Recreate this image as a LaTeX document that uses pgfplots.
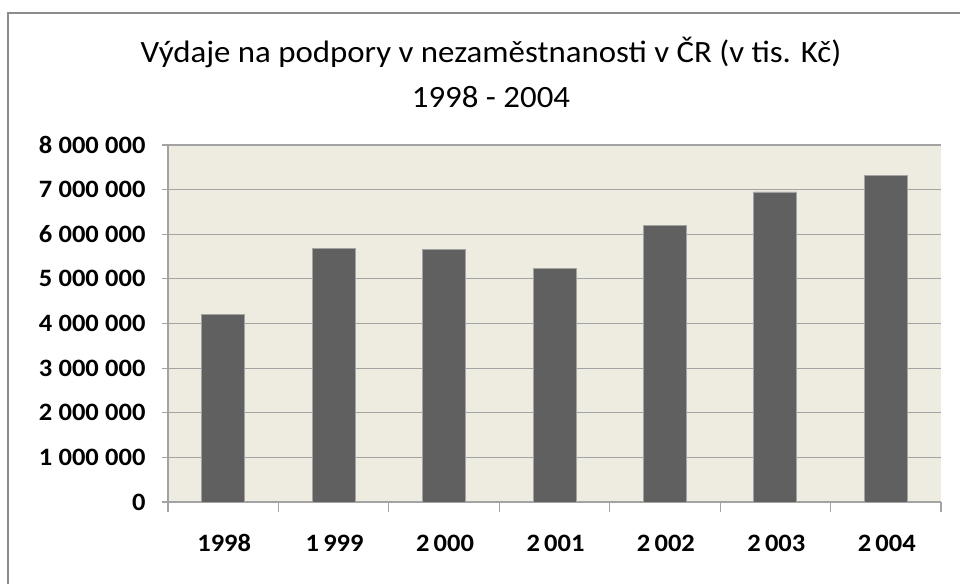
\documentclass[border=0pt]{standalone}
\usepackage{fontspec}
\setmainfont{Carlito}[FakeStretch=1.06]
\usepackage{pgfplots}
\pgfplotsset{compat=1.18}
\definecolor{plotbg}{HTML}{EEECE1}
\definecolor{barfill}{HTML}{606060}
\definecolor{gridc}{HTML}{A3A3A3}
\definecolor{framec}{HTML}{8C8C8C}
\begin{document}
\begin{tikzpicture}[x=1pt,y=1pt]
\useasboundingbox (0,0) rectangle (960,583);
\draw[framec, line width=2pt] (8,-5) -- (8,570) -- (965,570);
\node[anchor=base, font=\fontsize{31}{36}\selectfont] at (491,520) {Výdaje na podpory v nezaměstnanosti v ČR (v tis. Kč)};
\node[anchor=base, font=\fontsize{31}{36}\selectfont] at (491,475) {1998 - 2004};
\begin{axis}[
  at={(168pt,81pt)}, anchor=south west,
  width=773pt, height=357pt, scale only axis,
  axis background/.style={fill=plotbg},
  axis x line*=bottom, axis y line*=left,
  axis line style={gridc, line width=1.2pt},
  xmin=-0.5, xmax=6.5, ymin=0, ymax=8000000,
  xtick={0,...,6},
  xticklabels={1998,1\,999,2\,000,2\,001,2\,002,2\,003,2\,004},
  minor xtick={-0.5,0.5,...,6.5},
  ytick={0,1000000,...,8000000},
  ymajorgrids, grid style={gridc, line width=1.2pt},
  tick align=outside,
  major tick length=6pt, minor tick length=10pt,
  x tick style={draw=none},
  minor x tick style={draw=gridc, line width=1.2pt},
  y tick style={gridc, line width=1.2pt},
  tick label style={font=\fontsize{25}{30}\selectfont\bfseries},
  xticklabel style={anchor=base, yshift=-43pt, xshift=1pt},
  yticklabel style={xshift=-13pt},
  scaled y ticks=false,
  /pgf/number format/assume math mode=true,
  /pgf/number format/fixed,
  /pgf/number format/1000 sep={\hspace{0.25em}},
  ybar, bar width=43pt,
]
\addplot[fill=barfill, draw=gridc, line width=0.8pt] coordinates
  {(0,4197000) (1,5683000) (2,5660000) (3,5226000) (4,6197000) (5,6948000) (6,7322000)};
\end{axis}
\end{tikzpicture}
\end{document}
